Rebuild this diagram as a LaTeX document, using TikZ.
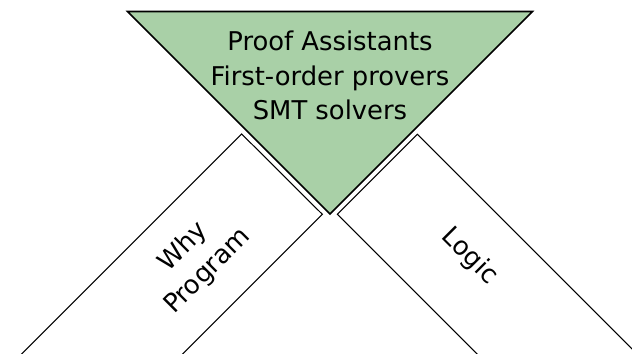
\documentclass[tikz,border=0pt]{standalone}
\usepackage{fontspec}
\setmainfont{DejaVu Sans}

\definecolor{provergreen}{RGB}{169,208,167}

\tikzset{
    band/.style={draw=black, line width=0.6pt},
    bandtext/.style={font=\fontsize{14.7}{19.6}\selectfont, align=center},
}

\begin{document}
\begin{tikzpicture}
    
    \useasboundingbox (0,0) rectangle (12.64,7.08);
    
    % the two slanted bands run off the bottom edge
    \begin{scope}
        \clip (0,0) rectangle (12.64,7.08);
        \draw[band] (-0.166,-0.6) -- (4.834,4.40) -- (6.446,2.794) -- (1.446,-2.206) -- cycle;
        \draw[band] (6.746,2.794) -- (8.346,4.394) -- (13.346,-0.606) -- (11.746,-2.206) -- cycle;
    \end{scope}
    
    \filldraw[fill=provergreen, draw=black, line width=0.9pt] (2.55,6.85) -- (10.65,6.85) -- (6.6,2.8) -- cycle;
    
    \node[bandtext] (tools) at (6.6,5.568) {Proof Assistants\\First-order provers\\SMT solvers};
    \node[bandtext, rotate=45] (why) at (3.908,1.896) {Why\\Program};
    \node[bandtext, rotate=-45] (logic) at (9.396,1.952) {Logic};
    
\end{tikzpicture}
\end{document}
